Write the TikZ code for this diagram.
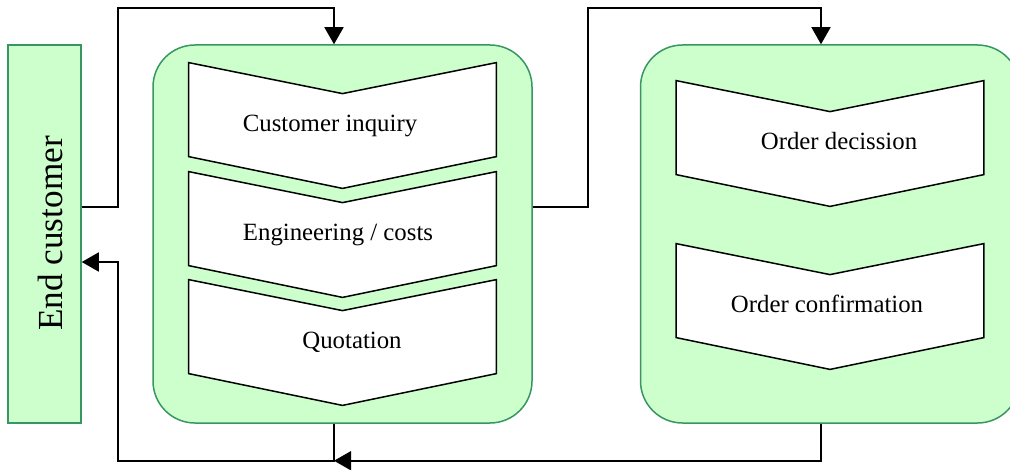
\documentclass[tikz,border=0pt]{standalone}
\usepackage{fontspec}
\setmainfont{Liberation Serif}
\usetikzlibrary{arrows.meta,calc}
\definecolor{boxfill}{RGB}{204,255,204}
\definecolor{boxline}{RGB}{56,150,98}
\pgfdeclarelayer{panels}
\pgfdeclarelayer{shapes}
\pgfsetlayers{panels,shapes,main}
\begin{document}
\begin{tikzpicture}[x=0.5pt,y=-0.5pt,
  panel/.style={draw=boxline, fill=boxfill, line width=0.75pt, rounded corners=21pt,
    minimum width=189.5pt, minimum height=189pt, inner sep=0pt},
  customer/.style={draw=boxline, fill=boxfill, line width=0.75pt,
    minimum width=36.5pt, minimum height=189pt, inner sep=0pt},
  stage/.style={minimum width=153.5pt, minimum height=62.5pt, inner sep=0pt},
  steptext/.style={anchor=base, inner sep=0pt, font=\fontsize{12.4}{15}\selectfont},
  chev/.style={draw=black, fill=white, line width=0.75pt},
  flow/.style={draw=black, line width=0.75pt},
  tip/.style={-{Triangle[length=8.5pt,width=9.5pt]}}
]
\useasboundingbox (0,0) rectangle (1010,470);

% process panels
\begin{pgfonlayer}{panels}
  \node[customer] (ec) at (44.5,234) {};
  \node[panel] (lc) at (342.5,234) {};
  \node[panel] (rc) at (830,234) {};
\end{pgfonlayer}
\node[rotate=90, inner sep=0pt, font=\fontsize{17.6}{21}\selectfont] (ect) at (50,233.5) {End customer};

% process steps (chevron frames)
\node[stage] (c1) at (342.5,125.5) {};
\node[stage] (c2) at (342.5,234.5) {};
\node[stage] (c3) at (342.5,342.5) {};
\node[stage] (r1) at (830,143.5) {};
\node[stage] (r2) at (830,306.5) {};

\begin{pgfonlayer}{shapes}
  \foreach \n in {c1,c2,c3,r1,r2}
    \draw[chev] (\n.north west) -- ($(\n.north)+(0pt,-15.5pt)$) -- (\n.north east)
      -- ($(\n.north east)+(0pt,-47pt)$) -- (\n.south)
      -- ($(\n.north west)+(0pt,-47pt)$) -- cycle;
\end{pgfonlayer}

% step labels
\node[steptext] (t1) at (330,132) {Customer inquiry};
\node[steptext] (t2) at (338,241) {Engineering / costs};
\node[steptext] (t3) at (352,348) {Quotation};
\node[steptext] (t4) at (839,150) {Order decission};
\node[steptext] (t5) at (827,312) {Order confirmation};

% connector rows and ports
\coordinate (yA) at (0,207);
\coordinate (yB) at (0,262);
\coordinate (inL) at ($(lc.north)+(-4.25pt,0pt)$);
\coordinate (inR) at ($(rc.north)+(-4.5pt,0pt)$);
\coordinate (outL) at ($(lc.south)+(-4.25pt,0pt)$);
\coordinate (outR) at ($(rc.south)+(-4.5pt,0pt)$);
\coordinate (join) at ($(outL)+(0pt,-18.5pt)$);

% connectors
\draw[flow,tip] (ec.east |- yA) -- ++(18pt,0pt) |- ($(inL)+(0pt,18pt)$) -- (inL);
\draw[flow,tip] (lc.east |- yA) -- ++(27.5pt,0pt) |- ($(inR)+(0pt,18pt)$) -- (inR);
\draw[flow,tip] (outR) |- (join);
\draw[flow,tip] (outL) -- (join) -| ($(ec.east |- yB)+(18pt,0pt)$) -- (ec.east |- yB);
\end{tikzpicture}
\end{document}
